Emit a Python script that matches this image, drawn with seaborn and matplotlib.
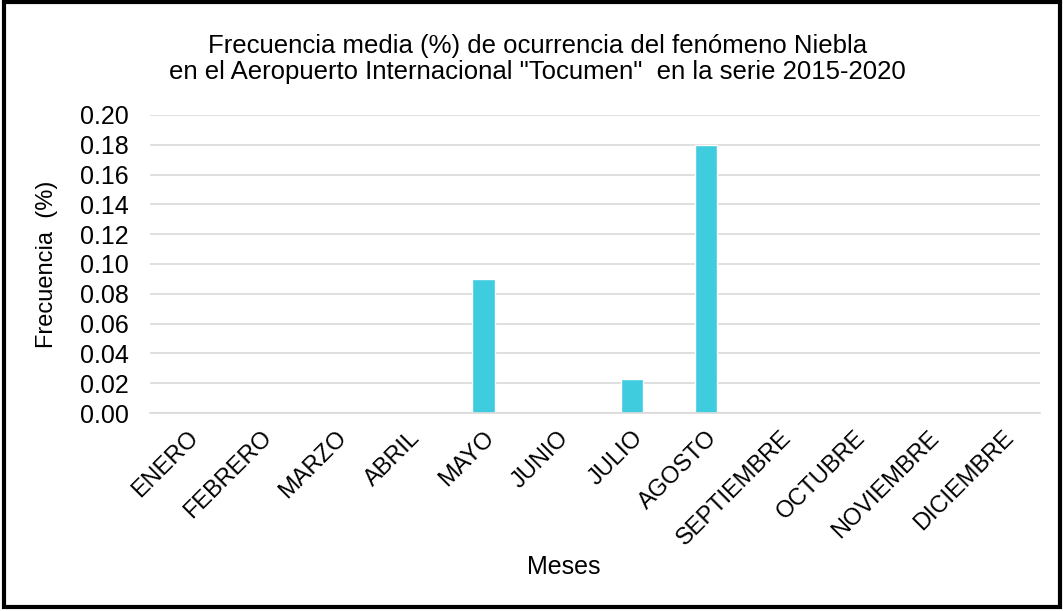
import matplotlib
matplotlib.use("Agg")
import matplotlib.pyplot as plt
import seaborn as sns
import pandas as pd
from matplotlib.patches import Rectangle

meses = ["ENERO", "FEBRERO", "MARZO", "ABRIL", "MAYO", "JUNIO", "JULIO",
         "AGOSTO", "SEPTIEMBRE", "OCTUBRE", "NOVIEMBRE", "DICIEMBRE"]
frecuencia = [0, 0, 0, 0, 0.09, 0, 0.023, 0.18, 0, 0, 0, 0]
yticks = [0.00, 0.02, 0.04, 0.06, 0.08, 0.10, 0.12, 0.14, 0.16, 0.18, 0.20]

sns.set_theme(style="white")
plt.rcParams['font.family'] = ['Liberation Sans', 'DejaVu Sans']
plt.rcParams['text.color'] = 'black'
plt.rcParams['axes.labelcolor'] = 'black'

df = pd.DataFrame({"Mes": meses, "Frecuencia": frecuencia})

fig = plt.figure(figsize=(10.63, 6.11), dpi=100)
ax = fig.add_axes([0.141, 0.324, 0.837, 0.488])
sns.barplot(data=df, x="Mes", y="Frecuencia", color="#40CCDF", saturation=1,
            width=0.3, ax=ax)
ax.set_ylim(0, 0.20)
ax.set_yticks(yticks)
ax.set_yticklabels([f"{v:.2f}" for v in yticks], fontsize=18)
ax.set_xlim(-0.5, 11.5)
ax.yaxis.grid(True, color="#D9D9D9", linewidth=1.2)
ax.set_axisbelow(True)
for s in ["top", "right", "left"]:
    ax.spines[s].set_visible(False)
ax.spines["bottom"].set_color("#D9D9D9")
ax.spines["bottom"].set_linewidth(1.2)
ax.tick_params(axis="y", length=0, pad=15, colors="black")
ax.tick_params(axis="x", length=0, pad=10, colors="black")
plt.setp(ax.get_xticklabels(), rotation=45, ha="right", rotation_mode="anchor",
         fontsize=17)
ax.set_xlabel("Meses", fontsize=18, va="top")
ax.xaxis.set_label_coords(0.465, -0.475)
ax.set_ylabel("Frecuencia  (%)", fontsize=17, labelpad=16)
ax.set_title('Frecuencia media (%) de ocurrencia del fenómeno Niebla\n'
             'en el Aeropuerto Internacional "Tocumen"  en la serie 2015-2020',
             fontsize=18.5, pad=26, linespacing=1.08, x=0.436, color="black")

fig.patches.append(Rectangle((0.004, 0.006), 0.993, 0.99, transform=fig.transFigure,
                             fill=False, edgecolor="black", linewidth=3))
fig.savefig("out.png", dpi=100)
